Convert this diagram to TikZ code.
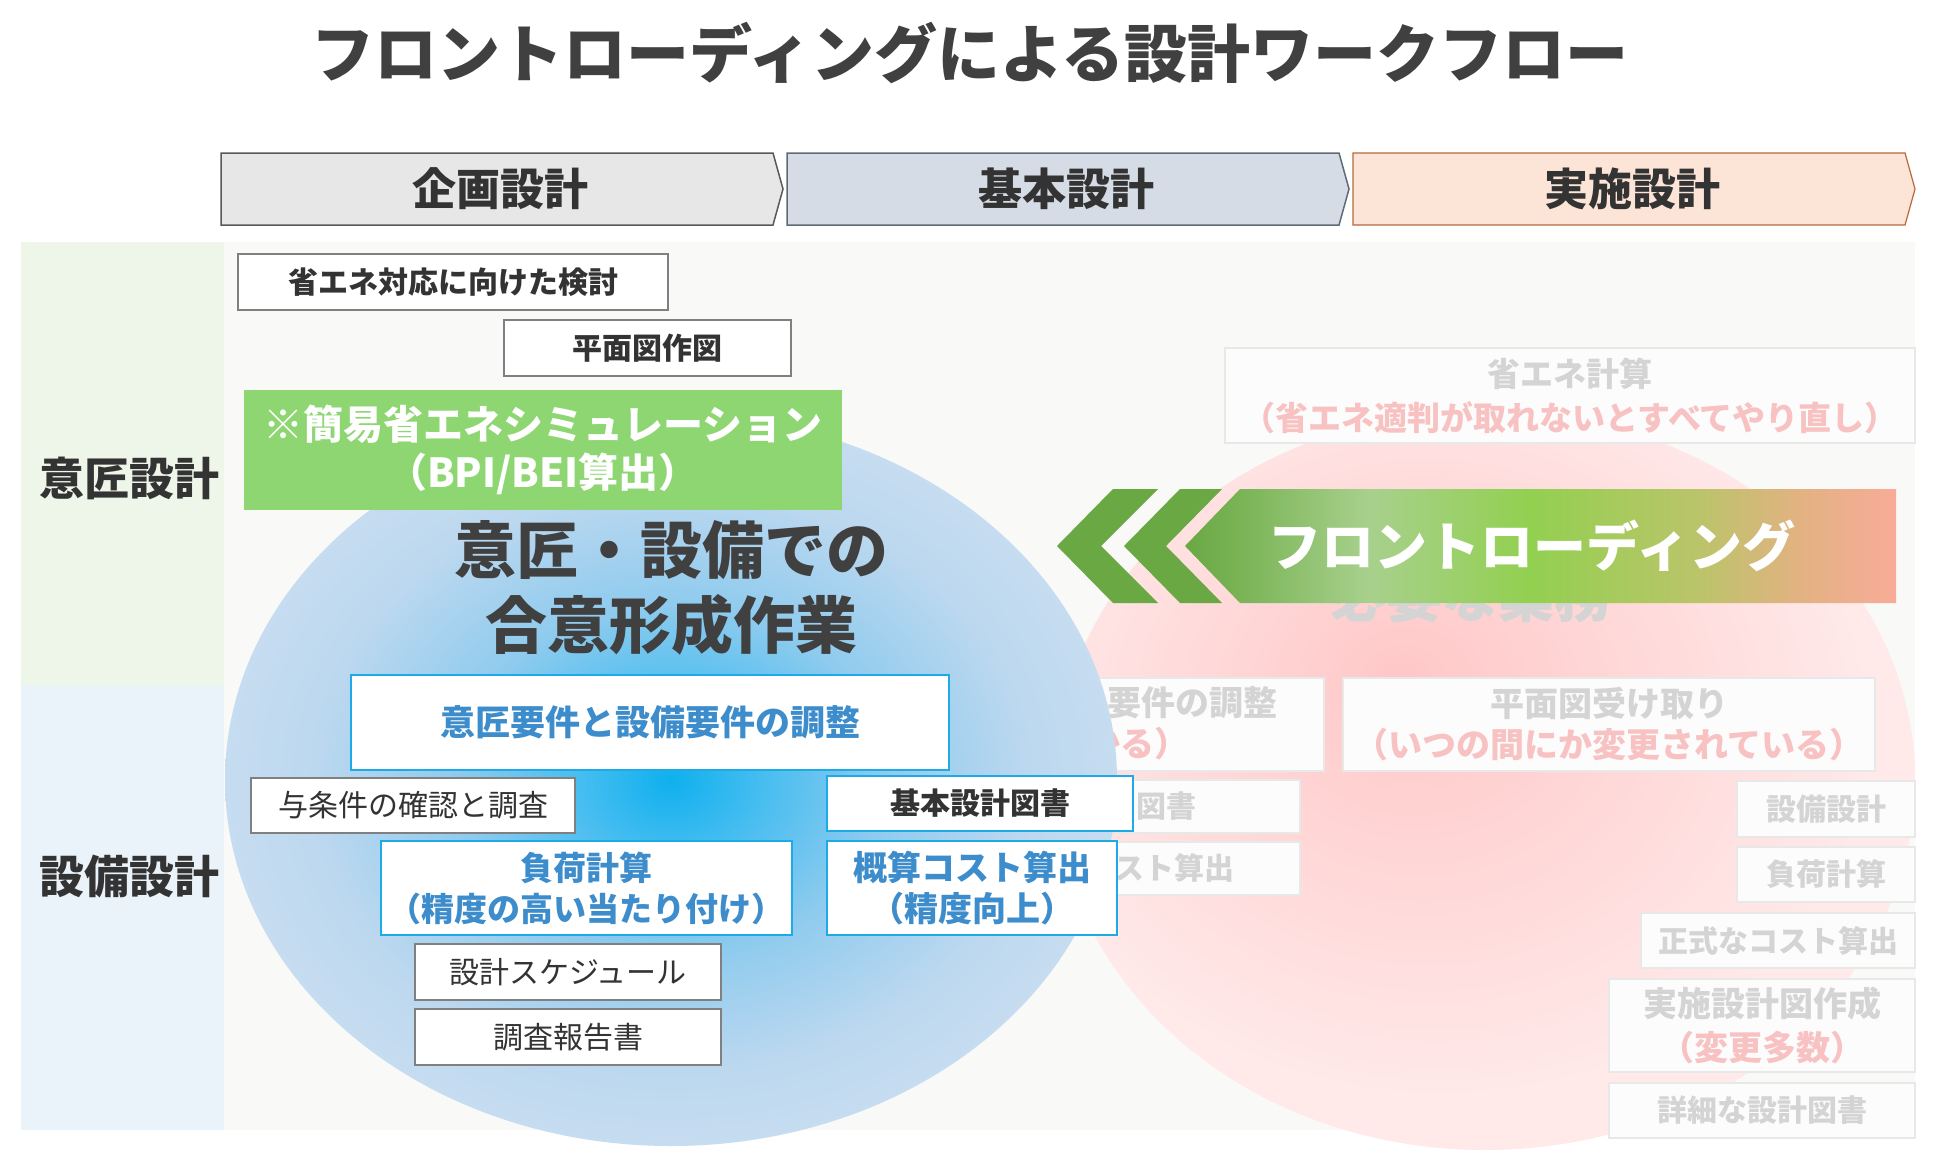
\documentclass[tikz,border=0pt]{standalone}
\usepackage{fontspec}
\setmainfont{Noto Sans CJK JP}
\usetikzlibrary{shapes.geometric}

\definecolor{bgGreen}{HTML}{EEF6EA}
\definecolor{bgBlue}{HTML}{EBF3FA}
\definecolor{bgMain}{HTML}{F9F9F8}
\definecolor{phAfill}{HTML}{E7E7E7}
\definecolor{phAdraw}{HTML}{595959}
\definecolor{phBfill}{HTML}{D6DCE5}
\definecolor{phBdraw}{HTML}{5F6A78}
\definecolor{phCfill}{HTML}{FCE4D6}
\definecolor{phCdraw}{HTML}{B46A3C}
\definecolor{txtdark}{HTML}{333333}
\definecolor{titlegray}{HTML}{404040}
\definecolor{boxgray}{HTML}{808080}
\definecolor{bluebd}{HTML}{1EAAE7}
\definecolor{bluetxt}{HTML}{3D8CCB}
\definecolor{greenbox}{HTML}{8DD672}
\definecolor{chev}{HTML}{6AA843}
\definecolor{fgray}{HTML}{D4D4D4}
\definecolor{fbord}{HTML}{E8E8E8}
\definecolor{fpink}{HTML}{F8C2C2}
% frontloading gradient
\definecolor{flA}{HTML}{6AA843}
\definecolor{flB}{HTML}{7AB456}
\definecolor{flC}{HTML}{A8D08D}
\definecolor{flD}{HTML}{92D050}
\definecolor{flE}{HTML}{BBC46A}
\definecolor{flF}{HTML}{E2B282}
\definecolor{flG}{HTML}{F8AC98}
% blue glow
\definecolor{blA}{HTML}{0FB0EE}
\definecolor{blB}{HTML}{45BDF0}
\definecolor{blC}{HTML}{8FCBEE}
\definecolor{blD}{HTML}{BCD8EF}
\definecolor{blE}{HTML}{C6DCF0}
% pink glow
\definecolor{pkA}{HTML}{FFC7C7}
\definecolor{pkB}{HTML}{FFD5D5}
\definecolor{pkC}{HTML}{FFE9E9}

\pgfdeclarehorizontalshading{flshade}{100bp}{color(0bp)=(flA); color(25bp)=(flA); color(28.9bp)=(flB); color(37.9bp)=(flC); color(49.3bp)=(flD); color(61.2bp)=(flE); color(68.2bp)=(flF); color(75bp)=(flG); color(100bp)=(flG)}
\pgfdeclareradialshading{blueglow}{\pgfpoint{0bp}{0bp}}{color(0bp)=(blA); color(5bp)=(blB); color(12bp)=(blC); color(20bp)=(blD); color(25bp)=(blE); color(50bp)=(blE)}
\pgfdeclareradialshading{pinkglow}{\pgfpoint{-5bp}{7bp}}{color(0bp)=(pkA); color(10bp)=(pkB); color(25bp)=(pkC); color(50bp)=(pkC)}

\begin{document}
\begin{tikzpicture}[x=1pt,y=-1pt,
  every node/.style={inner sep=0pt, outer sep=0pt, align=center},
  graybox/.style={draw=boxgray, line width=2pt, fill=white, text=txtdark},
  bluebox/.style={draw=bluebd, line width=2.5pt, fill=white, text=bluetxt},
  fadebox/.style={draw=fbord, line width=2pt, fill=white!98!gray, text=fgray},
  fsA/.style={font=\fontsize{30}{38}\selectfont\bfseries},
  fsR/.style={font=\fontsize{30}{38}\selectfont},
  fsB/.style={font=\fontsize{34}{41}\selectfont\bfseries},
  fsF/.style={font=\fontsize{33}{44}\selectfont\bfseries},
]
\useasboundingbox (0,0) rectangle (1950,1154);
\fill[white] (0,0) rectangle (1950,1154);

% title
\node[font=\fontsize{63}{70}\selectfont\bfseries, text=titlegray] (title) at (970,53) {フロントローディングによる設計ワークフロー};

% phase arrows
\draw[fill=phAfill, draw=phAdraw, line width=1.5pt] (221,153) -- (773,153) -- (783,189) -- (773,225) -- (221,225) -- cycle;
\draw[fill=phBfill, draw=phBdraw, line width=1.5pt] (787,153) -- (1339,153) -- (1349,189) -- (1339,225) -- (787,225) -- cycle;
\draw[fill=phCfill, draw=phCdraw, line width=1.2pt] (1353,153) -- (1905,153) -- (1915,189) -- (1905,225) -- (1353,225) -- cycle;
\node[font=\fontsize{44}{50}\selectfont\bfseries, text=txtdark] (phA) at (500,189) {企画設計};
\node[font=\fontsize{44}{50}\selectfont\bfseries, text=txtdark] (phB) at (1066,189) {基本設計};
\node[font=\fontsize{44}{50}\selectfont\bfseries, text=txtdark] (phC) at (1632,189) {実施設計};

% bands
\fill[bgMain] (224,242) rectangle (1915,1130);
\fill[bgGreen] (21,242) rectangle (224,685);
\fill[bgBlue] (21,685) rectangle (224,1130);
\node[font=\fontsize{45}{50}\selectfont\bfseries, text=txtdark] (rowA) at (129,478) {意匠設計};
\node[font=\fontsize{45}{50}\selectfont\bfseries, text=txtdark] (rowB) at (129,876) {設備設計};

% pink ellipse
\shade[shading=pinkglow] (1485,780) ellipse [x radius=430, y radius=370];

% faded content
\node[fadebox, fsF, minimum width=690pt, minimum height=95pt] (f1) at (1570,395.5) {省エネ計算\\\textcolor{fpink}{（省エネ適判が取れないとすべてやり直し）}};
\node[font=\fontsize{56}{60}\selectfont\bfseries, text=fgray] (need) at (1470,596) {必要な業務};
\node[fadebox, minimum width=324pt, minimum height=93pt] (f2) at (1162,724.5) {};
\node[fsB, text=fgray, anchor=east] (f2a) at (1277,703) {要件の調整};
\node[fsB, text=fpink, anchor=east] (f2b) at (1188,744) {かる）};
\node[fadebox, minimum width=250pt, minimum height=53pt] (f3) at (1175,806.5) {};
\node[fsA, text=fgray, anchor=east] (f3a) at (1196,806) {図書};
\node[fadebox, minimum width=250pt, minimum height=53pt] (f4) at (1175,868.5) {};
\node[fsA, text=fgray, anchor=east] (f4a) at (1234,868) {スト算出};
\node[fadebox, fsB, minimum width=532pt, minimum height=93pt] (f5) at (1609,724.5) {平面図受け取り\\\textcolor{fpink}{（いつの間にか変更されている）}};
\node[fadebox, fsA, minimum width=178pt, minimum height=56pt] (f6) at (1826,809) {設備設計};
\node[fadebox, fsA, minimum width=178pt, minimum height=55pt] (f7) at (1826,874.5) {負荷計算};
\node[fadebox, fsA, minimum width=274pt, minimum height=55pt] (f8) at (1778,940.5) {正式なコスト算出};
\node[fadebox, font=\fontsize{34}{44}\selectfont\bfseries, minimum width=306pt, minimum height=93pt] (f9) at (1762,1025.5) {実施設計図作成\\\textcolor{fpink}{（変更多数）}};
\node[fadebox, fsA, minimum width=306pt, minimum height=55pt] (f10) at (1762,1110.5) {詳細な設計図書};

% frontloading arrow
\fill[chev] (1057,546) -- (1113,489) -- (1158,489) -- (1101,546) -- (1158,603) -- (1113,603) -- cycle;
\fill[chev] (1124,546) -- (1180,489) -- (1222,489) -- (1166,546) -- (1222,603) -- (1180,603) -- cycle;
\shade[shading=flshade] (1185,546) -- (1240,489) -- (1896,489) -- (1896,603) -- (1240,603) -- cycle;
\node[font=\fontsize{53}{60}\selectfont\bfseries, text=white] (fl) at (1532,546) {フロントローディング};

% blue ellipse
\shade[shading=blueglow] (671,780) ellipse [x radius=446, y radius=366];

% design row boxes
\node[graybox, fsA, minimum width=430pt, minimum height=56pt] (b1) at (453,282) {省エネ対応に向けた検討};
\node[graybox, fsA, minimum width=287pt, minimum height=56pt] (b2) at (647.5,348) {平面図作図};
\node[fill=greenbox, text=white, font=\fontsize{40}{48}\selectfont\bfseries, minimum width=598pt, minimum height=120pt] (b3) at (543,450) {※簡易省エネシミュレーション\\（BPI/BEI算出）};

% center text
\node[font=\fontsize{62}{75}\selectfont\bfseries, text=titlegray] (center) at (671,588) {意匠・設備での\\合意形成作業};

% equipment row boxes
\node[bluebox, font=\fontsize{35}{41}\selectfont\bfseries, minimum width=598pt, minimum height=95pt] (b4) at (650,722.5) {意匠要件と設備要件の調整};
\node[graybox, fsR, minimum width=324pt, minimum height=55pt] (b5) at (413,805.5) {与条件の確認と調査};
\node[bluebox, font=\fontsize{33}{41}\selectfont\bfseries, minimum width=411pt, minimum height=94pt] (b6) at (586.5,888) {負荷計算\\（精度の高い当たり付け）};
\node[bluebox, fsA, text=txtdark, minimum width=306pt, minimum height=55pt] (b7) at (980,803.5) {基本設計図書};
\node[bluebox, font=\fontsize{34}{41}\selectfont\bfseries, minimum width=290pt, minimum height=94pt] (b8) at (972,888) {概算コスト算出\\（精度向上）};
\node[graybox, fsR, minimum width=306pt, minimum height=56pt] (b9) at (568,972) {設計スケジュール};
\node[graybox, fsR, minimum width=306pt, minimum height=56pt] (b10) at (568,1037) {調査報告書};
\end{tikzpicture}
\end{document}
